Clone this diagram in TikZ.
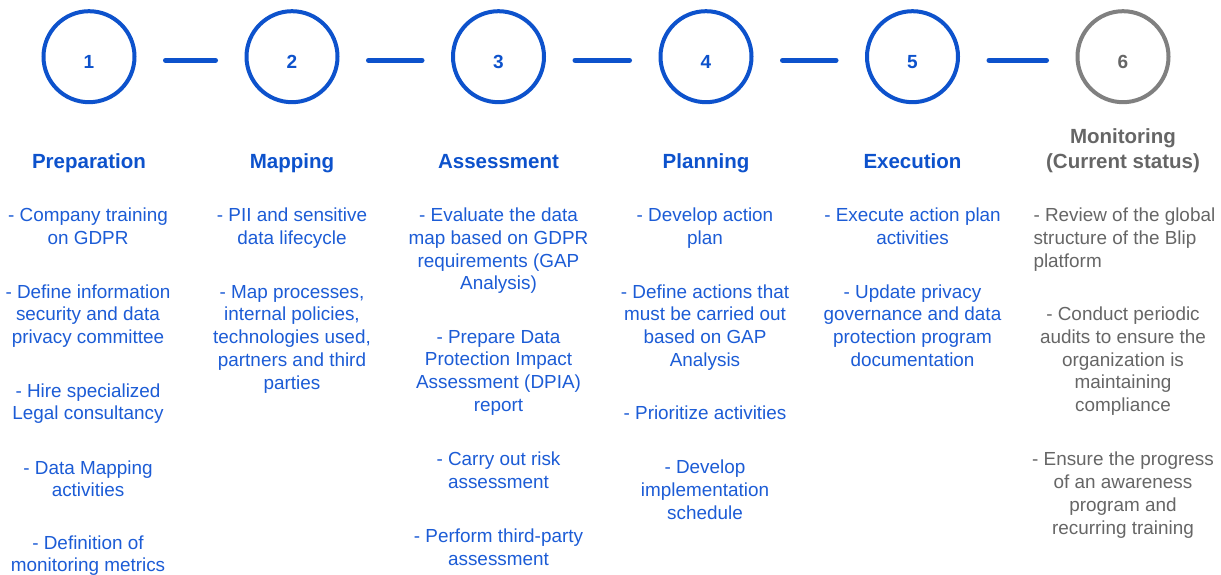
\documentclass[tikz,border=0pt]{standalone}
\usepackage{fontspec}
\setmainfont{Liberation Sans}
\definecolor{bluemain}{RGB}{13,82,204}
\definecolor{bodyblue}{RGB}{28,92,214}
\definecolor{graycirc}{RGB}{128,128,128}
\definecolor{graytext}{RGB}{102,102,102}
\begin{document}
\begin{tikzpicture}[x=1pt,y=-1pt,
  stepcirc/.style={circle, draw=bluemain, line width=4pt, minimum size=91pt, inner sep=0pt},
  graystep/.style={stepcirc, draw=graycirc},
  numtxt/.style={font=\fontsize{19}{23}\selectfont\bfseries, text=bluemain, anchor=base, inner sep=0pt},
  conn/.style={draw=bluemain, line width=5pt, line cap=round, shorten <=29pt, shorten >=29pt},
  headtxt/.style={font=\fontsize{20.5}{24.5}\selectfont\bfseries, text=bluemain, anchor=base, inner sep=0pt, align=center},
  bodytxt/.style={font=\fontsize{18.9}{22.7}\selectfont, text=bodyblue, anchor=north, inner sep=0pt, align=center},
  graybody/.style={bodytxt, text=graytext}
]
\useasboundingbox (0,0) rectangle (1221,575);
\fill[white] (0,0) rectangle (1221,575);

% circles
\node[stepcirc] (c1) at (89,56.7) {};
\node[stepcirc] (c2) at (292,56.7) {};
\node[stepcirc] (c3) at (498.5,56.7) {};
\node[stepcirc] (c4) at (706,56.7) {};
\node[stepcirc] (c5) at (912.5,56.7) {};
\node[graystep] (c6) at (1123,56.7) {};

% numbers
\node[numtxt] (n1) at (89,69) {1};
\node[numtxt] (n2) at (292,69) {2};
\node[numtxt] (n3) at (498.5,69) {3};
\node[numtxt] (n4) at (706,69) {4};
\node[numtxt] (n5) at (912.5,69) {5};
\node[numtxt, text=graytext] (n6) at (1123,69) {6};

% connectors
\draw[conn] ([yshift=-3.5pt]c1.east) -- ([yshift=-3.5pt]c2.west);
\draw[conn] ([yshift=-3.5pt]c2.east) -- ([yshift=-3.5pt]c3.west);
\draw[conn] ([yshift=-3.5pt]c3.east) -- ([yshift=-3.5pt]c4.west);
\draw[conn] ([yshift=-3.5pt]c4.east) -- ([yshift=-3.5pt]c5.west);
\draw[conn] ([yshift=-3.5pt]c5.east) -- ([yshift=-3.5pt]c6.west);

% headings
\node[headtxt] (h1) at (89,168.3) {Preparation};
\node[headtxt] (h2) at (292,168.3) {Mapping};
\node[headtxt] (h3) at (498.5,168.3) {Assessment};
\node[headtxt] (h4) at (706,168.3) {Planning};
\node[headtxt] (h5) at (912.5,168.3) {Execution};
\node[headtxt, text=graytext] (h6a) at (1123,144) {Monitoring};
\node[headtxt, text=graytext] (h6b) at (1123,168.3) {(Current status)};

% column 1
\node[bodytxt] (a1) at (88,205.6) {\strut- Company training\\on GDPR};
\node[bodytxt] (a2) at (88,282.2) {\strut- Define information\\security and data\\privacy committee};
\node[bodytxt] (a3) at (88,381.2) {\strut- Hire specialized\\Legal consultancy};
\node[bodytxt] (a4) at (88,458.2) {\strut- Data Mapping\\activities};
\node[bodytxt] (a5) at (88,533.2) {\strut- Definition of\\monitoring metrics};

% column 2
\node[bodytxt] (b1) at (292,205.6) {\strut- PII and sensitive\\data lifecycle};
\node[bodytxt] (b2) at (292,282.2) {\strut- Map processes,\\internal policies,\\technologies used,\\partners and third\\parties};

% column 3
\node[bodytxt] (d1) at (498.5,205.6) {\strut- Evaluate the data\\map based on GDPR\\requirements (GAP\\Analysis)};
\node[bodytxt] (d2) at (498.5,327.2) {\strut- Prepare Data\\Protection Impact\\Assessment (DPIA)\\report};
\node[bodytxt] (d3) at (498.5,449.9) {\strut- Carry out risk\\assessment};
\node[bodytxt] (d4) at (498.5,526.6) {\strut- Perform third-party\\assessment};

% column 4
\node[bodytxt] (e1) at (705,205.6) {\strut- Develop action\\plan};
\node[bodytxt] (e2) at (705,282.2) {\strut- Define actions that\\must be carried out\\based on GAP\\Analysis};
\node[bodytxt] (e3) at (705,403.2) {\strut- Prioritize activities};
\node[bodytxt] (e4) at (705,457.9) {\strut- Develop\\implementation\\schedule};

% column 5
\node[bodytxt] (f1) at (912.5,205.6) {\strut- Execute action plan\\activities};
\node[bodytxt] (f2) at (912.5,282.2) {\strut- Update privacy\\governance and data\\protection program\\documentation};

% column 6
\node[graybody, anchor=north west, align=left] (g1) at (1033.3,205.6) {\strut- Review of the global\\structure of the Blip\\platform};
\node[graybody] (g2) at (1123,304.6) {\strut- Conduct periodic\\audits to ensure the\\organization is\\maintaining\\compliance};
\node[graybody] (g3) at (1123,449.9) {\strut- Ensure the progress\\of an awareness\\program and\\recurring training};
\end{tikzpicture}
\end{document}
